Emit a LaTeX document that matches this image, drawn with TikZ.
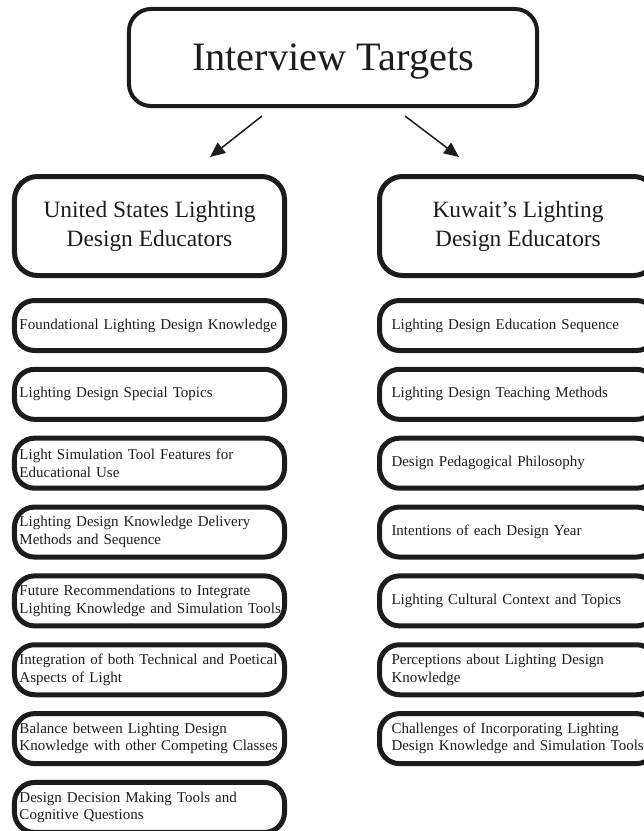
\documentclass[tikz,border=0pt]{standalone}
\usepackage{fontspec}
\setmainfont{Liberation Serif}
\usetikzlibrary{arrows.meta}
\definecolor{ink}{RGB}{28,28,28}
\begin{document}
\begin{tikzpicture}[x=1bp,y=-1bp,
  titlebox/.style={draw=ink, line width=4bp, rounded corners=22bp,
    minimum width=408bp, minimum height=97bp, inner sep=0pt,
    font=\fontsize{40.3bp}{46bp}\selectfont, text depth=0pt, text=ink},
  headbox/.style={draw=ink, line width=5bp, rounded corners=23bp,
    minimum height=99bp, inner sep=0pt, align=center,
    font=\fontsize{23.4bp}{29bp}\selectfont, text=ink},
  itemL/.style={draw=ink, line width=5bp, rounded corners=20bp,
    minimum width=270bp, minimum height=50bp, inner xsep=5bp, inner ysep=0pt,
    text width=260bp, align=left,
    font=\fontsize{15bp}{17.4bp}\selectfont, text=ink},
  itemR/.style={itemL, minimum width=277bp, inner xsep=12bp, text width=253bp},
  link/.style={draw=ink, line width=1.5bp, -{Triangle[length=15bp,width=13bp]}}
]
\useasboundingbox (0,0) rectangle (644,831);
\clip (0,0) rectangle (644,831);

% top node (title sits a little left of the box centre)
\node[titlebox] (title) at (333,57.5) {Interview Targets\hspace{8bp}};

% the two groups
\node[headbox, minimum width=270bp] (us) at (149.5,226) {United States Lighting\\Design Educators};
\node[headbox, minimum width=277bp] (kw) at (518,226) {Kuwait’s Lighting\\Design Educators};

% arrows from the top node to the groups
\coordinate (ls) at (262,116);
\coordinate (le) at (210,157);
\coordinate (rs) at (405,116);
\coordinate (re) at (459,157);
\draw[link] (ls) -- (le);
\draw[link] (rs) -- (re);

% United States themes
\node[itemL] (us1) at (149.5,325.5) {Foundational Lighting Design Knowledge};
\node[itemL] (us2) at (149.5,394.35) {Lighting Design Special Topics};
\node[itemL] (us3) at (149.5,463.2) {Light Simulation Tool Features for\\Educational Use};
\node[itemL] (us4) at (149.5,532.05) {Lighting Design Knowledge Delivery\\Methods and Sequence};
\node[itemL] (us5) at (149.5,600.9) {Future Recommendations to Integrate\\\mbox{Lighting Knowledge and Simulation Tools}};
\node[itemL] (us6) at (149.5,669.75) {Integration of both Technical and Poetical\\Aspects of Light};
\node[itemL] (us7) at (149.5,738.6) {Balance between Lighting Design\\\mbox{Knowledge with other Competing Classes}};
\node[itemL] (us8) at (149.5,807.45) {Design Decision Making Tools and\\Cognitive Questions};

% Kuwait themes
\node[itemR] (kw1) at (518,325.5) {Lighting Design Education Sequence};
\node[itemR] (kw2) at (518,394.35) {Lighting Design Teaching Methods};
\node[itemR] (kw3) at (518,463.2) {Design Pedagogical Philosophy};
\node[itemR] (kw4) at (518,532.05) {Intentions of each Design Year};
\node[itemR] (kw5) at (518,600.9) {Lighting Cultural Context and Topics};
\node[itemR] (kw6) at (518,669.75) {Perceptions about Lighting Design\\Knowledge};
\node[itemR] (kw7) at (518,738.6) {Challenges of Incorporating Lighting\\\mbox{Design Knowledge and Simulation Tools}};
\end{tikzpicture}
\end{document}
